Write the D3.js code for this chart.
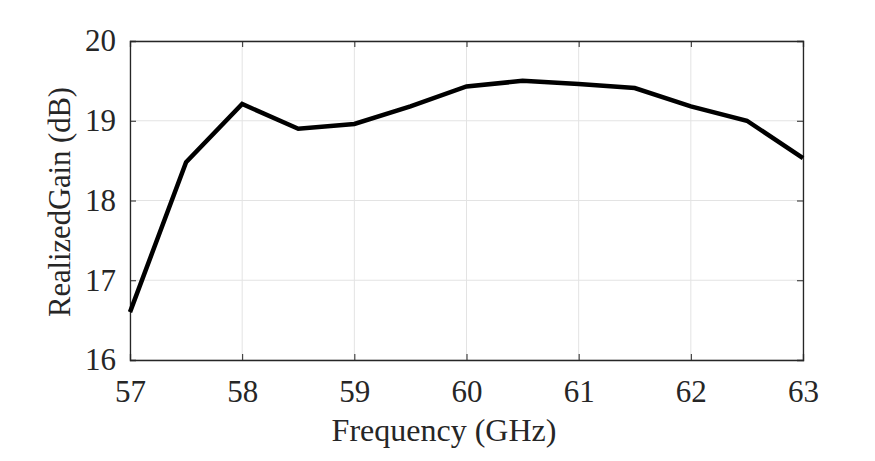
<!DOCTYPE html>
<html>
<head>
<meta charset="utf-8">
<script src="https://cdn.jsdelivr.net/npm/d3@7"></script>
<style>
  body { margin: 0; background: #fff; }
  text { font-family: "Liberation Serif", "Times New Roman", serif; fill: #262626; }
</style>
</head>
<body>
<div id="chart"></div>
<script>
const freqs = [57, 57.5, 58, 58.5, 59, 59.5, 60, 60.5, 61, 61.5, 62, 62.5, 63];
const gains = [16.6, 18.48, 19.21, 18.9, 18.96, 19.18, 19.43, 19.5, 19.46, 19.41, 19.18, 19.0, 18.53];
const xTicks = [57, 58, 59, 60, 61, 62, 63];
const yTicks = [16, 17, 18, 19, 20];

const fullWidth = 875, fullHeight = 461;
const margin = { top: 41, right: 72, bottom: 101, left: 130 },
  width = fullWidth - margin.left - margin.right,
  height = fullHeight - margin.top - margin.bottom;

const svg = d3.select("#chart")
  .append("svg")
  .attr("width", fullWidth)
  .attr("height", fullHeight)
  .append("g")
  .attr("transform", `translate(${margin.left},${margin.top})`);

const x = d3.scaleLinear().domain([57, 63]).range([0, width]);
const y = d3.scaleLinear().domain([16, 20]).range([height, 0]);

// grid
svg.append("g")
  .selectAll("line.vg")
  .data(xTicks)
  .enter()
  .append("line")
  .attr("x1", d => x(d)).attr("x2", d => x(d))
  .attr("y1", 0).attr("y2", height)
  .style("stroke", "#e3e3e3").style("stroke-width", 1);

svg.append("g")
  .selectAll("line.hg")
  .data(yTicks)
  .enter()
  .append("line")
  .attr("x1", 0).attr("x2", width)
  .attr("y1", d => y(d)).attr("y2", d => y(d))
  .style("stroke", "#e3e3e3").style("stroke-width", 1);

// axes (ticks point inward, box on all four sides)
const tickLen = 6;
const xAxis = svg.append("g")
  .attr("transform", `translate(0,${height})`)
  .call(d3.axisBottom(x).tickValues(xTicks).tickSize(-tickLen).tickPadding(20).tickFormat(d3.format("d")));
const yAxis = svg.append("g")
  .call(d3.axisLeft(y).tickValues(yTicks).tickSize(-tickLen).tickPadding(14).tickFormat(d3.format("d")));
svg.append("g")
  .call(d3.axisTop(x).tickValues(xTicks).tickSize(-tickLen).tickFormat(""));
svg.append("g")
  .attr("transform", `translate(${width},0)`)
  .call(d3.axisRight(y).tickValues(yTicks).tickSize(-tickLen).tickFormat(""));

svg.selectAll(".domain").style("stroke", "#262626").style("stroke-width", 1.3);
svg.selectAll(".tick line").style("stroke", "#262626");
svg.selectAll(".tick text").style("font-size", "31px").style("font-family", "Liberation Serif").style("fill", "#262626");
xAxis.selectAll(".tick text").attr("dy", "0.71em");

// axis labels
svg.append("text")
  .attr("text-anchor", "middle")
  .attr("x", 314)
  .attr("y", height + 81)
  .style("font-size", "32px")
  .text("Frequency (GHz)");

svg.append("text")
  .attr("text-anchor", "middle")
  .attr("transform", "rotate(-90)")
  .attr("x", -161)
  .attr("y", -60)
  .attr("textLength", 230)
  .attr("lengthAdjust", "spacingAndGlyphs")
  .style("font-size", "31px")
  .text("RealizedGain (dB)");

// line
svg.append("path")
  .datum(freqs.map((f, i) => [f, gains[i]]))
  .style("fill", "none")
  .style("stroke", "#000")
  .style("stroke-width", 4.5)
  .style("stroke-linejoin", "miter")
  .attr("d", d3.line().x(d => x(d[0])).y(d => y(d[1])));
</script>
</body>
</html>
